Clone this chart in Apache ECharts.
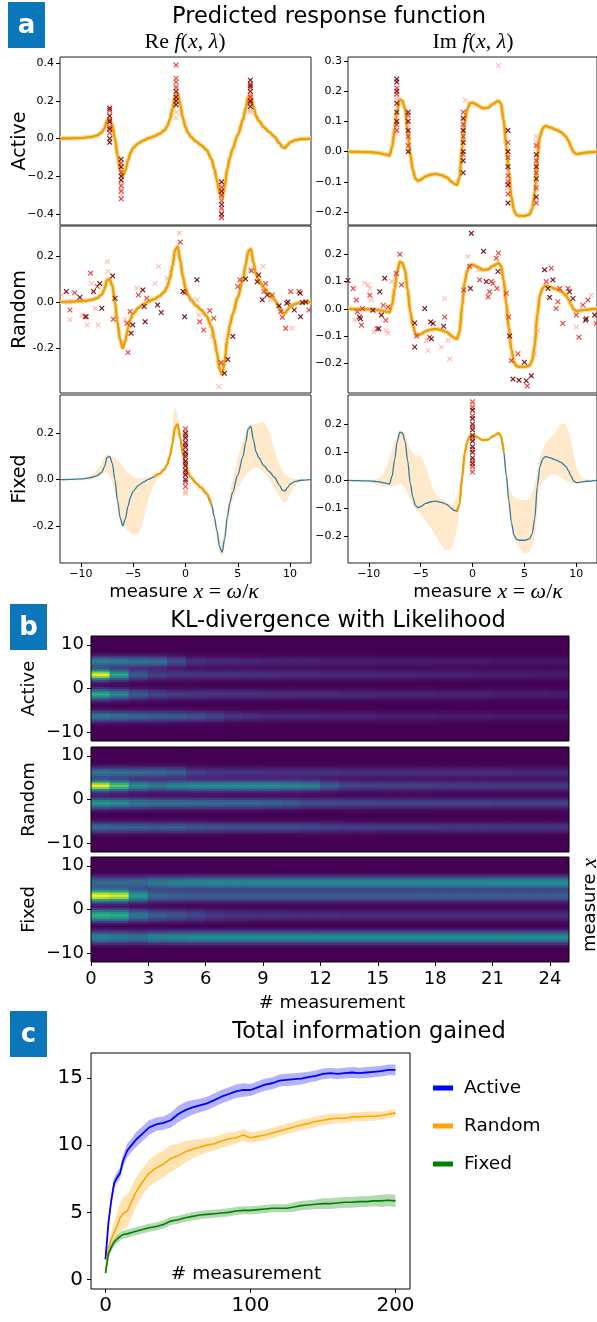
<!DOCTYPE html>
<html>
<head>
<meta charset="utf-8">
<script src="https://cdn.jsdelivr.net/npm/echarts@6.0.0/dist/echarts.min.js"></script>
<style>
html, body { margin: 0; padding: 0; background: #fff; }
#chart { width: 597px; height: 1322px; }
</style>
</head>
<body>
<div id="chart"></div>
<script>
var FONT = 'DejaVu Sans';
var SERIF = 'Liberation Serif';
var MINUS = '\u2212';
var TEAL = '#2f7d9e';
var ORANGE = '#eda100';
var CROSS = 'path://M0,1.5L1.5,0L5,3.5L8.5,0L10,1.5L6.5,5L10,8.5L8.5,10L5,6.5L1.5,10L0,8.5L3.5,5Z';

// ---- panel a : response function ----
var xsA = [-12,-11,-10,-9.5,-9,-8.5,-8,-7.75,-7.5,-7.25,-7,-6.75,-6.5,-6.25,-6,-5.75,-5.5,-5.25,-5,-4.5,-4,-3.5,-3,-2.5,-2,-1.75,-1.5,-1.25,-1,-0.75,-0.5,-0.25,0,0.25,0.5,1,1.5,2,2.5,2.75,3,3.25,3.5,3.75,4,4.25,4.5,5,5.5,5.75,6,6.25,6.5,6.75,7,7.5,8,8.5,9,9.25,9.5,9.75,10,10.5,11,12];
var reTrue = [0,0.001,0.003,0.005,0.009,0.016,0.032,0.055,0.095,0.1,0.07,0.0,-0.09,-0.165,-0.2,-0.17,-0.115,-0.075,-0.05,-0.025,-0.01,0.002,0.012,0.025,0.045,0.065,0.1,0.155,0.225,0.24,0.18,0.11,0.06,0.03,0.01,-0.015,-0.035,-0.06,-0.11,-0.16,-0.22,-0.29,-0.315,-0.255,-0.16,-0.1,-0.055,0.02,0.1,0.16,0.22,0.23,0.17,0.12,0.095,0.06,0.035,0.01,-0.025,-0.045,-0.05,-0.035,-0.02,-0.008,-0.003,0];
var imTrue = [0,-0.001,-0.002,-0.003,-0.005,-0.009,-0.013,0.015,0.075,0.14,0.172,0.168,0.14,0.07,-0.01,-0.06,-0.09,-0.097,-0.093,-0.082,-0.076,-0.074,-0.078,-0.085,-0.1,-0.107,-0.11,-0.085,0.01,0.1,0.14,0.16,0.162,0.158,0.153,0.143,0.145,0.158,0.168,0.158,0.105,0.02,-0.07,-0.15,-0.195,-0.21,-0.213,-0.213,-0.208,-0.19,-0.135,-0.02,0.05,0.075,0.085,0.08,0.073,0.065,0.05,0.035,0.015,-0.002,-0.008,-0.006,-0.003,0];

// spread of the fixed-strategy posterior samples
var bx = [-12,-11.5,-11,-10.5,-10,-9.5,-9,-8.5,-8,-7.5,-7,-6.5,-6,-5.5,-5,-4.5,-4,-3.5,-3,-2.5,-2,-1.5,-1,-0.5,0,0.5,1,1.5,2,2.5,3,3.5,4,4.5,5,5.5,6,6.5,7,7.5,8,8.5,9,9.5,10,10.5,11,11.5,12];
var fixedReHi = [0,0,0.002,0.004,0.006,0.01,0.02,0.04,0.075,0.108,0.1,0.085,0.055,0.03,0.012,0.005,0.008,0.012,0.022,0.035,0.06,0.13,0.31,0.22,0.08,0.03,0,-0.02,-0.04,-0.09,-0.2,-0.27,-0.12,0,0.09,0.17,0.235,0.24,0.245,0.245,0.21,0.13,0.06,0.025,0.008,0.003,0.001,0,0];
var fixedReLo = [-0.004,-0.004,-0.003,-0.003,-0.003,-0.003,0,0.005,0.02,0.03,-0.01,-0.11,-0.2,-0.22,-0.235,-0.235,-0.17,-0.08,-0.02,0.01,0.035,0.08,0.19,0.16,0.05,0,-0.03,-0.05,-0.075,-0.13,-0.25,-0.335,-0.2,-0.09,-0.04,0,0.03,0.05,0.05,0.03,0,-0.035,-0.075,-0.1,-0.065,-0.025,-0.008,-0.003,-0.002];
var fixedImHi = [0.003,0.003,0.003,0.003,0.003,0.004,0.008,0.03,0.08,0.14,0.178,0.165,0.11,0.09,0.085,0.05,-0.01,-0.05,-0.065,-0.075,-0.085,-0.06,0.05,0.15,0.168,0.16,0.15,0.152,0.165,0.175,0.13,-0.02,-0.06,-0.065,-0.07,-0.065,-0.01,0.08,0.13,0.15,0.17,0.2,0.2,0.14,0.05,0.01,0.004,0.002,0.001];
var fixedImLo = [-0.003,-0.004,-0.005,-0.006,-0.008,-0.012,-0.018,-0.022,-0.02,-0.02,-0.01,-0.03,-0.07,-0.1,-0.12,-0.145,-0.17,-0.2,-0.23,-0.25,-0.24,-0.17,-0.03,0.09,0.155,0.148,0.138,0.14,0.15,0.16,0.08,-0.1,-0.2,-0.24,-0.26,-0.25,-0.2,-0.02,0,0.02,0.02,0.01,0,-0.01,-0.012,-0.008,-0.005,-0.003,-0.002];
var fixedCoreRange = [[-3, 2.5], [-1.5, 3]];

// measurements (crosses) : dark / red / light shades
var activeReDark = [[-7.25,0.16],[-7.25,0.12],[-7.25,0.09],[-7.25,0.05],[-7.25,0],[-7.25,-0.02],[-6.15,-0.11],[-6.15,-0.15],[-6.15,-0.2],[-6.15,-0.22],[-0.9,0.25],[-0.9,0.22],[-0.9,0.2],[-0.9,0.18],[3.45,-0.23],[3.45,-0.28],[3.45,-0.35],[3.45,-0.4],[6.2,0.31],[6.2,0.28],[6.2,0.25],[6.2,0.2],[6.2,0.17]];
var activeReRed = [[-7.25,0.15],[-7.25,0.1],[-7.25,0.06],[-7.25,0.03],[-6.15,-0.13],[-6.15,-0.18],[-6.15,-0.25],[-6.15,-0.28],[-6.15,-0.32],[-0.9,0.39],[-0.9,0.32],[-0.9,0.3],[-0.9,0.27],[3.45,-0.26],[3.45,-0.3],[3.45,-0.33],[3.45,-0.37],[3.45,-0.42],[6.2,0.29],[6.2,0.27],[6.2,0.22],[6.2,0.19]];
var activeReLight = [[-7.25,0.17],[-7.25,0.13],[-7.25,0.08],[-6.15,-0.23],[-6.15,-0.27],[-6.15,-0.3],[-0.9,0.14],[-0.9,0.11],[-0.9,0.28],[-0.9,0.23],[3.45,-0.25],[3.45,-0.38],[3.45,-0.41],[6.2,0.15],[6.2,0.14],[6.2,0.23]];
var activeImDark = [[-7.3,0.24],[-7.3,0.23],[-7.3,0.2],[-7.3,0.16],[-7.3,0.13],[-7.3,0.1],[-6.2,0.13],[-6.2,0.1],[-6.2,0.07],[-6.2,0],[-0.9,0.11],[-0.9,0.07],[-0.9,0.03],[-0.9,0],[-0.9,-0.03],[-0.9,-0.07],[3.42,0.07],[3.42,0],[3.42,-0.05],[3.42,-0.11],[3.42,-0.17],[6.15,-0.01],[6.15,-0.05],[6.15,-0.09],[6.15,-0.15]];
var activeImRed = [[-7.3,0.21],[-7.3,0.19],[-7.3,0.09],[-7.3,0.07],[-6.2,0.12],[-6.2,0.05],[-6.2,0.02],[-0.9,0.13],[-0.9,0.09],[-0.9,0.05],[-0.9,-0.01],[3.42,0.03],[3.42,-0.02],[3.42,-0.08],[3.42,-0.1],[3.42,-0.14],[6.15,0.02],[6.15,-0.03],[6.15,-0.07],[6.15,-0.12],[6.15,-0.17]];
var activeImLight = [[-7.3,0.18],[-7.3,0.06],[-7.3,0.17],[-7.3,0.12],[-6.2,0.09],[-0.7,0.17],[-0.9,0.1],[-0.9,0.08],[3.42,-0.12],[6.15,0.05],[6.15,0.03],[6.15,0.01],[2.5,0.285]];

var randomReDark = [[-11.4,0.045],[-10.1,0.02],[-9.5,-0.064],[-8.8,0.045],[-8.2,0.08],[-8,-0.028],[-6.96,0.113],[-6.73,0.016],[-5.2,-0.136],[-5.04,-0.1],[-4.08,0.052],[-3.95,-0.02],[-3.86,-0.086],[-2.67,-0.013],[-2.32,-0.046],[-0.24,0.045],[-0.08,-0.064],[1.1,0.096],[3.73,-0.31],[4.05,-0.25],[4.53,-0.15],[5.74,0.1],[7,0.117],[6.86,0.088],[7.34,0.009],[7.82,0.03],[8.94,-0.017],[9.68,-0.006],[9.8,0],[10.4,-0.035],[10.96,0.038],[11.18,-0.003],[11.5,0],[11,-0.064]];
var randomReRed = [[-10.6,0.04],[-11.05,-0.035],[-9.6,-0.064],[-9.07,0.125],[-8.43,0.067],[-6.9,-0.075],[-5.6,-0.093],[-5.5,-0.22],[-5.3,-0.042],[-4.5,0.03],[-3.7,0.016],[-0.5,0.26],[-0.08,0.04],[1.36,-0.086],[1.74,-0.122],[2.32,-0.038],[2.7,-0.071],[3.4,-0.264],[5,0.067],[5.2,0.096],[6.3,0.136],[7.66,0.08],[7.5,0.045],[8.3,0.03],[9.1,-0.042],[9.26,-0.067],[9.58,-0.115],[10.06,0.045],[10.86,0.045],[11.8,-0.035]];
var randomReLight = [[-11.85,0.03],[-11.2,0],[-11.05,-0.078],[-9.9,-0.057],[-9.4,-0.1],[-8.98,0.08],[-8.65,-0.028],[-8.35,-0.1],[-7.47,0.175],[-7.4,0.132],[-5.8,-0.078],[-4.66,0.06],[-2.9,0.08],[-2.58,0.154],[-1.78,0.103],[-0.59,0.3],[0.62,0.009],[1.1,0.009],[1.26,-0.057],[2.54,-0.15],[3.18,-0.368],[6.22,0.14],[7.4,0.154],[8.14,0.009],[10.2,-0.115]];
var randomImDark = [[-12,0.104],[-10.9,-0.03],[-10.8,-0.036],[-9.6,-0.005],[-9.03,-0.073],[-8.94,0.063],[-8.78,-0.023],[-8.46,0.112],[-5.57,-0.052],[-5.57,-0.14],[-4.6,0.001],[-4.03,-0.048],[-3.97,-0.11],[-3.8,-0.054],[-2.78,-0.064],[-0.2,0.075],[-0.11,0.277],[1.07,0.211],[1.33,0.1],[2.45,0.137],[3.58,-0.1],[3.9,-0.258],[4.48,-0.262],[5,-0.196],[5.18,-0.264],[5.67,-0.246],[6.95,0.143],[7.27,0.075],[7.43,0.042],[7.75,0.106],[9.35,0.063],[9.68,0.038],[10.9,-0.042],[10.96,-0.036],[11.77,-0.023]];
var randomImRed = [[-11.5,0.075],[-11.2,0.032],[-11.1,-0.011],[-10.7,-0.06],[-10.6,0.001],[-9.9,0.05],[-9.2,-0.073],[-8.6,0.013],[-8.36,-0.042],[-8.14,0.007],[-7.34,0.13],[-7,0.2],[-6.85,0.088],[-5.4,-0.1],[-4.13,-0.104],[-2.68,-0.03],[-0.85,0.069],[-0.27,0.156],[0.69,0.106],[1.5,0.044],[1.65,0.063],[1.81,0.1],[1.97,0.094],[2.3,0.186],[2.5,0.205],[2.36,0.075],[3.26,0.057],[3.5,-0.03],[3.74,-0.19],[4.38,-0.165],[5.28,-0.283],[7.1,0.1],[7.6,0.149],[8.07,0.001],[8.23,0.026],[8.4,0.075],[8.7,-0.054],[9.2,0.075],[10,-0.023],[10.26,-0.104],[10.64,0.014],[11.12,0.032],[11.93,-0.054]];
var randomImLight = [[-11.35,-0.04],[-10.4,0.094],[-10.06,0.088],[-9.9,0.075],[-9.75,0.032],[-9.5,-0.085],[-8.88,-0.005],[-8.3,-0.08],[-8.14,-0.09],[-7.8,0.1],[-4.45,-0.116],[-4.3,-0.153],[-3,-0.14],[-2.68,0.038],[-2.36,-0.116],[-2.2,-0.184],[-0.43,0.193],[0.53,0.143],[5.99,-0.165],[6.3,-0.08],[10,-0.067],[11.45,0.05]];

var fixedReDark = [[0,0.2],[0,0.18],[0,0.16],[0,0.14],[0,0.12],[0,0.1],[0,0.08],[0,0.06],[0,0.04],[0,0.02],[0,0]];
var fixedReRed = [[0,0.22],[0,0.19],[0,0.15],[0,0.11],[0,0.07],[0,0.03],[0,-0.01],[0,-0.03]];
var fixedReLight = [[0,-0.05],[0,-0.06],[0,0.21]];
var fixedImDark = [[0,0.25],[0,0.22],[0,0.2],[0,0.18],[0,0.16],[0,0.14],[0,0.12],[0,0.1],[0,0.08],[0,0.06]];
var fixedImRed = [[0,0.28],[0,0.26],[0,0.23],[0,0.19],[0,0.15],[0,0.11],[0,0.07],[0,0.05],[0,0.03]];
var fixedImLight = [[0,0.04],[0,0.27]];

var aRowNames = ['Active', 'Random', 'Fixed'];
var aXTicks = [-10, -5, 0, 5, 10];
var aYMin = [[-0.459, -0.243], [-0.396, -0.309], [-0.361, -0.294]];
var aYMax = [[0.433, 0.313], [0.33, 0.304], [0.366, 0.304]];
var aYTicks = [
    [[-0.4, -0.2, 0, 0.2, 0.4], [-0.2, -0.1, 0, 0.1, 0.2, 0.3]],
    [[-0.2, 0, 0.2], [-0.2, -0.1, 0, 0.1, 0.2]],
    [[-0.2, 0, 0.2], [-0.2, -0.1, 0, 0.1, 0.2]]
];
var aMinus = [[MINUS, MINUS], ['-', MINUS], ['-', MINUS]];

// ---- panel b : KL divergence heatmaps ----
var hmCols = [0,1,2,3,4,5,6,7,8,9,10,11,12,13,14,15,16,17,18,19,20,21,22,23,24];
var hmRows = [-11.75,-11.25,-10.75,-10.25,-9.75,-9.25,-8.75,-8.25,-7.75,-7.25,-6.75,-6.25,-5.75,-5.25,-4.75,-4.25,-3.75,-3.25,-2.75,-2.25,-1.75,-1.25,-0.75,-0.25,0.25,0.75,1.25,1.75,2.25,2.75,3.25,3.75,4.25,4.75,5.25,5.75,6.25,6.75,7.25,7.75,8.25,8.75,9.25,9.75,10.25,10.75,11.25,11.75];
var narrowProfile = [0.06, 0.18, 0.45, 0.8, 1, 0.8, 0.45, 0.18, 0.06];
var wideProfile = [0.1, 0.28, 0.58, 0.88, 1, 0.88, 0.58, 0.28, 0.1];

var activeCenters = [6.3, 3.3, -1.3, -6.5];
var klActiveP6 = [0.45,0.43,0.4,0.38,0.25,0.14,0.12,0.12,0.11,0.1,0.1,0.1,0.09,0.09,0.09,0.08,0.08,0.08,0.07,0.07,0.07,0.06,0.06,0.06,0.06];
var klActiveP3 = [1,0.6,0.3,0.2,0.17,0.16,0.15,0.15,0.14,0.14,0.13,0.13,0.12,0.12,0.12,0.11,0.11,0.1,0.1,0.1,0.09,0.09,0.09,0.08,0.08];
var klActiveM1 = [0.62,0.48,0.3,0.22,0.18,0.17,0.16,0.15,0.15,0.14,0.14,0.13,0.13,0.12,0.12,0.11,0.11,0.11,0.1,0.1,0.1,0.09,0.09,0.09,0.08];
var klActiveM6 = [0.42,0.38,0.35,0.32,0.3,0.27,0.22,0.16,0.13,0.12,0.11,0.11,0.1,0.1,0.1,0.09,0.09,0.09,0.08,0.08,0.08,0.07,0.07,0.07,0.07];

var randomCenters = [6.0, 3.3, -1.0, -6.3];
var klRandomP6 = [0.4,0.38,0.36,0.35,0.32,0.2,0.17,0.16,0.16,0.15,0.15,0.15,0.15,0.14,0.14,0.14,0.14,0.13,0.13,0.13,0.13,0.13,0.12,0.12,0.12];
var klRandomP3 = [1,0.75,0.5,0.42,0.48,0.5,0.5,0.5,0.5,0.5,0.48,0.45,0.3,0.22,0.21,0.2,0.2,0.2,0.19,0.19,0.19,0.18,0.18,0.18,0.18];
var klRandomM1 = [0.55,0.5,0.42,0.38,0.38,0.37,0.36,0.35,0.35,0.33,0.3,0.25,0.24,0.23,0.23,0.22,0.22,0.22,0.21,0.21,0.21,0.2,0.2,0.2,0.2];
var klRandomM6 = [0.35,0.33,0.32,0.3,0.32,0.28,0.26,0.25,0.25,0.24,0.24,0.23,0.2,0.19,0.19,0.18,0.18,0.18,0.17,0.17,0.17,0.16,0.16,0.16,0.16];

var fixedCenters = [6.3, 3.3, -1.2, -6.3];
var klFixedP6 = [0.35,0.35,0.35,0.42,0.45,0.46,0.47,0.47,0.47,0.48,0.48,0.48,0.48,0.48,0.48,0.48,0.48,0.49,0.49,0.49,0.49,0.5,0.5,0.5,0.5];
var klFixedP3 = [1,0.95,0.55,0.35,0.32,0.3,0.3,0.3,0.3,0.3,0.3,0.3,0.3,0.3,0.3,0.3,0.3,0.3,0.3,0.3,0.3,0.3,0.3,0.3,0.3];
var klFixedM1 = [0.65,0.62,0.4,0.3,0.27,0.22,0.17,0.15,0.14,0.14,0.13,0.13,0.13,0.12,0.12,0.12,0.12,0.12,0.12,0.12,0.12,0.12,0.12,0.12,0.12];
var klFixedM6 = [0.45,0.42,0.38,0.45,0.48,0.5,0.5,0.5,0.5,0.5,0.5,0.5,0.5,0.5,0.5,0.5,0.5,0.5,0.5,0.5,0.5,0.5,0.5,0.5,0.5];

var bXTicks = [0, 3, 6, 9, 12, 15, 18, 21, 24];
var bYTicks = [-10, 0, 10];
var viridis = ['#440154','#482878','#3e4989','#31688e','#26828e','#1f9e89','#35b779','#6ece58','#b5de2b','#fde725'];

// ---- panel c : total information gained ----
var cx = [0,2,4,6,8,10,12,15,18,21,25,30,35,40,45,50,55,60,65,70,75,80,85,90,95,100,105,110,115,120,125,130,135,140,145,150,155,160,165,170,175,180,185,190,195,200];
var activeMean = [1.5,4.2,5.9,7.2,7.6,7.9,8.8,9.6,10.0,10.4,10.8,11.3,11.55,11.65,11.85,12.3,12.6,12.8,12.95,13.1,13.35,13.6,13.8,14.0,14.1,14.1,14.3,14.5,14.6,14.8,14.85,14.9,14.95,15.05,15.15,15.3,15.35,15.3,15.35,15.4,15.35,15.4,15.45,15.5,15.6,15.6];
var activeHalf = [0.15,0.3,0.35,0.4,0.4,0.4,0.45,0.5,0.5,0.55,0.55,0.55,0.5,0.5,0.55,0.6,0.6,0.55,0.5,0.5,0.5,0.5,0.5,0.5,0.5,0.45,0.45,0.45,0.45,0.45,0.45,0.45,0.45,0.4,0.4,0.4,0.4,0.4,0.4,0.4,0.4,0.4,0.4,0.4,0.4,0.4];
var randomMean = [0.5,2.3,3.0,3.5,4.0,4.6,4.9,5.1,5.8,6.5,7.2,7.9,8.3,8.6,9.0,9.2,9.5,9.7,9.85,10.0,10.1,10.3,10.45,10.55,10.75,10.55,10.65,10.75,10.9,11.05,11.2,11.35,11.5,11.6,11.75,11.85,11.95,12.0,12.0,12.1,12.1,12.15,12.15,12.2,12.3,12.4];
var randomHalf = [0.3,0.5,0.6,0.8,1.0,1.1,1.2,1.2,1.15,1.1,1.0,1.0,1.0,1.0,1.0,0.9,0.8,0.7,0.6,0.55,0.5,0.5,0.5,0.45,0.45,0.4,0.4,0.4,0.4,0.4,0.4,0.4,0.4,0.4,0.4,0.4,0.4,0.35,0.35,0.35,0.35,0.35,0.35,0.3,0.3,0.3];
var fixedMean = [0.5,1.9,2.4,2.8,3.0,3.2,3.35,3.4,3.5,3.6,3.7,3.85,3.95,4.1,4.35,4.45,4.6,4.7,4.8,4.85,4.9,4.95,5.0,5.1,5.15,5.15,5.2,5.25,5.3,5.3,5.3,5.4,5.5,5.55,5.6,5.65,5.65,5.7,5.75,5.75,5.8,5.8,5.85,5.85,5.9,5.85];
var fixedHalf = [0.2,0.3,0.3,0.3,0.3,0.3,0.3,0.3,0.3,0.3,0.3,0.3,0.3,0.3,0.3,0.3,0.3,0.3,0.3,0.3,0.3,0.3,0.3,0.3,0.3,0.3,0.3,0.3,0.3,0.3,0.3,0.35,0.35,0.35,0.35,0.4,0.4,0.4,0.4,0.4,0.4,0.4,0.4,0.45,0.45,0.45];
var cXTicks = [0, 100, 200];
var cYTicks = [0, 5, 10, 15];

// layout
var aLeft = [60, 348], aWidth = [251, 249], aTop = [57, 226, 395], aHeight = [168, 167, 168];
var bLeft = 91, bWidth = 478, bTop = [636, 747, 857], bHeight = 105;
var cLeft = 91, cTop = 1053, cWidth = 319, cHeight = 236;

initChart();

function pairs(x, y) {
    var out = [];
    for (var i = 0; i < x.length; i++) {
        out.push([x[i], y[i]]);
    }
    return out;
}

function signed(v, digits, minus) {
    var s = Math.abs(v).toFixed(digits);
    return v < -1e-9 ? minus + s : s;
}

//value axis with ticks only at the given values, sitting on the grid edge
function valueAxis(grid, min, max, ticks, show, size, margin, formatter) {
    return {
        type: 'value', gridIndex: grid, min: min, max: max,
        axisLine: { show: false, onZero: false }, splitLine: { show: false },
        axisTick: { show: show, customValues: ticks, length: 4, lineStyle: { color: '#000' } },
        axisLabel: { show: show, customValues: ticks, fontSize: size, margin: margin, color: '#000', fontFamily: FONT, formatter: formatter }
    };
}

function lineSeries(g, data, color, width, z, smooth, name) {
    return {
        type: 'line', name: name, xAxisIndex: g, yAxisIndex: g, data: data,
        showSymbol: false, symbol: 'none', smooth: smooth, smoothMonotone: 'x',
        silent: true, z: z, lineStyle: { color: color, width: width }, itemStyle: { color: color }
    };
}

function crossSeries(g, pts, color, opacity) {
    return {
        type: 'scatter', xAxisIndex: g, yAxisIndex: g, data: pts, symbol: CROSS,
        symbolSize: 5.5, silent: true, z: 6, itemStyle: { color: color, opacity: opacity }
    };
}

//band between lo and hi drawn through the axes
function bandSeries(g, x, lo, hi, color, opacity, z, smooth) {
    return {
        type: 'custom', xAxisIndex: g, yAxisIndex: g, data: [0], clip: true, silent: true, z: z,
        renderItem: function (params, api) {
            var pts = [];
            for (var i = 0; i < x.length; i++) pts.push(api.coord([x[i], hi[i]]));
            for (var j = x.length - 1; j >= 0; j--) pts.push(api.coord([x[j], lo[j]]));
            return { type: 'polygon', shape: { points: pts, smooth: smooth }, style: { fill: color, opacity: opacity } };
        }
    };
}

//heat cells, slightly overlapped so no seams show between them
function heatSeries(g, data) {
    return {
        type: 'custom', xAxisIndex: g, yAxisIndex: g, data: data, clip: true, silent: true,
        encode: { x: 0, y: 1 }, dimensions: ['col', 'row', 'kl'],
        renderItem: function (params, api) {
            var p = api.coord([api.value(0), api.value(1)]);
            var s = api.size([1, 1]);
            return {
                type: 'rect',
                shape: { x: p[0] - s[0] / 2 - 0.5, y: p[1] - s[1] / 2 - 0.5, width: s[0] + 1, height: s[1] + 1 },
                style: { fill: api.visual('color') }
            };
        }
    };
}

function klData(centers, levels, profile) {
    var data = [];
    var half = (profile.length - 1) / 2;
    for (var c = 0; c < hmCols.length; c++) {
        for (var r = 0; r < hmRows.length; r++) {
            var v = 0;
            for (var b = 0; b < centers.length; b++) {
                var cr = Math.round((centers[b] - hmRows[0]) / 0.5);
                var d = r - cr;
                if (Math.abs(d) <= half) v += levels[b][c] * profile[d + half];
            }
            data.push([c, r, Math.min(v, 1)]);
        }
    }
    return data;
}

function textEl(x, y, text, size, extra) {
    var el = {
        type: 'text', x: x, y: y, z: 50,
        style: {
            text: text, fontSize: size, fontFamily: FONT, fill: '#000',
            align: 'center', verticalAlign: 'middle', textAlign: 'center', textVerticalAlign: 'middle'
        }
    };
    if (extra) {
        for (var k in extra) {
            if (k === 'rotation') el.rotation = extra[k];
            else el.style[k] = extra[k];
        }
    }
    return el;
}

function badge(x, y, w, h, letter) {
    return [
        { type: 'rect', z: 50, shape: { x: x, y: y, width: w, height: h }, style: { fill: '#0b76ba' } },
        textEl(x + w / 2, y + h / 2 + 1, letter, 26, { fill: '#fff', fontWeight: 'bold' })
    ];
}

function mathRich(size) {
    return {
        s: { fontFamily: FONT, fontSize: size },
        r: { fontFamily: SERIF, fontSize: size + 4 },
        m: { fontFamily: SERIF, fontSize: size + 4, fontStyle: 'italic' }
    };
}

function initChart() {
    var chart = echarts.init(document.getElementById('chart'));
    var grids = [], xAxes = [], yAxes = [], series = [], graphics = [], heatIdx = [];
    var crossSets = [
        [[activeReDark, activeReRed, activeReLight], [activeImDark, activeImRed, activeImLight]],
        [[randomReDark, randomReRed, randomReLight], [randomImDark, randomImRed, randomImLight]],
        [[fixedReDark, fixedReRed, fixedReLight], [fixedImDark, fixedImRed, fixedImLight]]
    ];
    var intFmt = function (v) { return signed(v, 0, MINUS); };

    // panel a
    for (var r = 0; r < 3; r++) {
        for (var c = 0; c < 2; c++) {
            var g = grids.length;
            var truth = c === 0 ? reTrue : imTrue;
            var minus = aMinus[r][c];
            grids.push({ left: aLeft[c], top: aTop[r], width: aWidth[c], height: aHeight[r], show: true, borderColor: '#222', borderWidth: 1 });
            xAxes.push(valueAxis(g, -12, 12, aXTicks, r === 2, 11, 6, intFmt));
            yAxes.push(valueAxis(g, aYMin[r][c], aYMax[r][c], aYTicks[r][c], true, 11, 6,
                (function (m) { return function (v) { return signed(v, 1, m); }; })(minus)));
            if (r === 2) {
                var lo = c === 0 ? fixedReLo : fixedImLo;
                var hi = c === 0 ? fixedReHi : fixedImHi;
                series.push(bandSeries(g, bx, lo, hi, '#ffcf8a', 0.45, 1, 0.3));
                series.push(lineSeries(g, pairs(xsA, truth), TEAL, 1.3, 3, 0.3));
                var core = pairs(xsA, truth).filter(function (p) {
                    return p[0] >= fixedCoreRange[c][0] && p[0] <= fixedCoreRange[c][1];
                });
                series.push(lineSeries(g, core, ORANGE, 2.2, 4, 0.3));
            } else {
                series.push(lineSeries(g, pairs(xsA, truth), '#ffd590', 4.5, 2, 0.3));
                series.push(lineSeries(g, pairs(xsA, truth), TEAL, 1.3, 3, 0.3));
                series.push(lineSeries(g, pairs(xsA, truth), ORANGE, 2.2, 4, 0.3));
            }
            var sets = crossSets[r][c];
            series.push(crossSeries(g, sets[2], '#fb9a80', 0.6));
            series.push(crossSeries(g, sets[1], '#e3342c', 0.9));
            series.push(crossSeries(g, sets[0], '#7a0a12', 0.95));
        }
        graphics.push(textEl(20, aTop[r] + aHeight[r] / 2, aRowNames[r], 19, { rotation: Math.PI / 2 }));
    }

    // panel b
    var klSets = [
        klData(activeCenters, [klActiveP6, klActiveP3, klActiveM1, klActiveM6], narrowProfile),
        klData(randomCenters, [klRandomP6, klRandomP3, klRandomM1, klRandomM6], narrowProfile),
        klData(fixedCenters, [klFixedP6, klFixedP3, klFixedM1, klFixedM6], wideProfile)
    ];
    for (var k = 0; k < 3; k++) {
        var gh = grids.length;
        grids.push({ left: bLeft, top: bTop[k], width: bWidth, height: bHeight });
        xAxes.push({ type: 'category', gridIndex: gh, data: hmCols, show: false });
        yAxes.push({ type: 'category', gridIndex: gh, data: hmRows, show: false });
        heatIdx.push(series.length);
        series.push(heatSeries(gh, klSets[k]));

        var go = grids.length;
        grids.push({ left: bLeft, top: bTop[k], width: bWidth, height: bHeight });
        xAxes.push(valueAxis(go, 0, 25, bXTicks, k === 2, 18, 8, null));
        yAxes.push(valueAxis(go, -12, 12, bYTicks, true, 18, 7, intFmt));
        graphics.push({ type: 'rect', z: 60, shape: { x: bLeft, y: bTop[k], width: bWidth, height: bHeight },
            style: { fill: 'none', stroke: '#000', lineWidth: 1 } });
        graphics.push(textEl(29, bTop[k] + bHeight / 2, aRowNames[k], 18, { rotation: Math.PI / 2 }));
    }

    // panel c
    var gc = grids.length;
    grids.push({ left: cLeft, top: cTop, width: cWidth, height: cHeight, show: true, borderColor: '#000', borderWidth: 1 });
    xAxes.push(valueAxis(gc, -10, 210, cXTicks, true, 20, 7, null));
    yAxes.push(valueAxis(gc, -0.7, 16.85, cYTicks, true, 20, 8, null));
    var infoSets = [
        ['Active', activeMean, activeHalf, '#0000ff', 1.8],
        ['Random', randomMean, randomHalf, '#ffa500', 1.6],
        ['Fixed', fixedMean, fixedHalf, '#008000', 1.6]
    ];
    var legends = [];
    infoSets.forEach(function (s, i) {
        var lo = s[1].map(function (v, j) { return v - s[2][j]; });
        var hi = s[1].map(function (v, j) { return v + s[2][j]; });
        series.push(bandSeries(gc, cx, lo, hi, s[3], 0.3, 1, 0));
        series.push(lineSeries(gc, pairs(cx, s[1]), s[3], s[4], 3, false, s[0]));
        legends.push({
            data: [s[0]], left: 428, top: 1073 + i * 38, icon: 'rect', itemWidth: 20, itemHeight: 5,
            selectedMode: false, textStyle: { fontSize: 18.5, fontFamily: FONT, color: '#000', padding: [0, 0, 0, 6], lineHeight: 20 }
        });
    });

    // texts
    graphics = graphics.concat(badge(8, 2, 37, 46, 'a'), badge(10, 604, 37, 46, 'b'), badge(10, 1011, 37, 46, 'c'));
    graphics.push(textEl(329, 17, 'Predicted response function', 22.5));
    graphics.push(textEl(185, 42, '{r|Re}{m| f}{r|(}{m|x}{r|, }{m|λ}{r|)}', 18, { rich: mathRich(18) }));
    graphics.push(textEl(473, 42, '{r|Im}{m| f}{r|(}{m|x}{r|, }{m|λ}{r|)}', 18, { rich: mathRich(18) }));
    graphics.push(textEl(184, 592, '{s|measure }{m|x}{r| = }{m|ω}{r|/}{m|κ}', 18, { rich: mathRich(18) }));
    graphics.push(textEl(488, 592, '{s|measure }{m|x}{r| = }{m|ω}{r|/}{m|κ}', 18, { rich: mathRich(18) }));
    graphics.push(textEl(338, 621, 'KL-divergence with Likelihood', 22.5));
    graphics.push(textEl(590, 905, '{s|measure }{m|x}', 18, { rich: mathRich(18), rotation: Math.PI / 2 }));
    graphics.push(textEl(332, 1003, '# measurement', 18));
    graphics.push(textEl(369, 1032, 'Total information gained', 22.5));
    graphics.push(textEl(246, 1274, '# measurement', 18.5));

    chart.setOption({
        animation: false,
        backgroundColor: '#fff',
        grid: grids,
        xAxis: xAxes,
        yAxis: yAxes,
        legend: legends,
        visualMap: {
            type: 'continuous', show: false, min: 0, max: 1, dimension: 2,
            seriesIndex: heatIdx, inRange: { color: viridis }
        },
        graphic: { elements: graphics },
        series: series
    });
}
</script>
</body>
</html>
